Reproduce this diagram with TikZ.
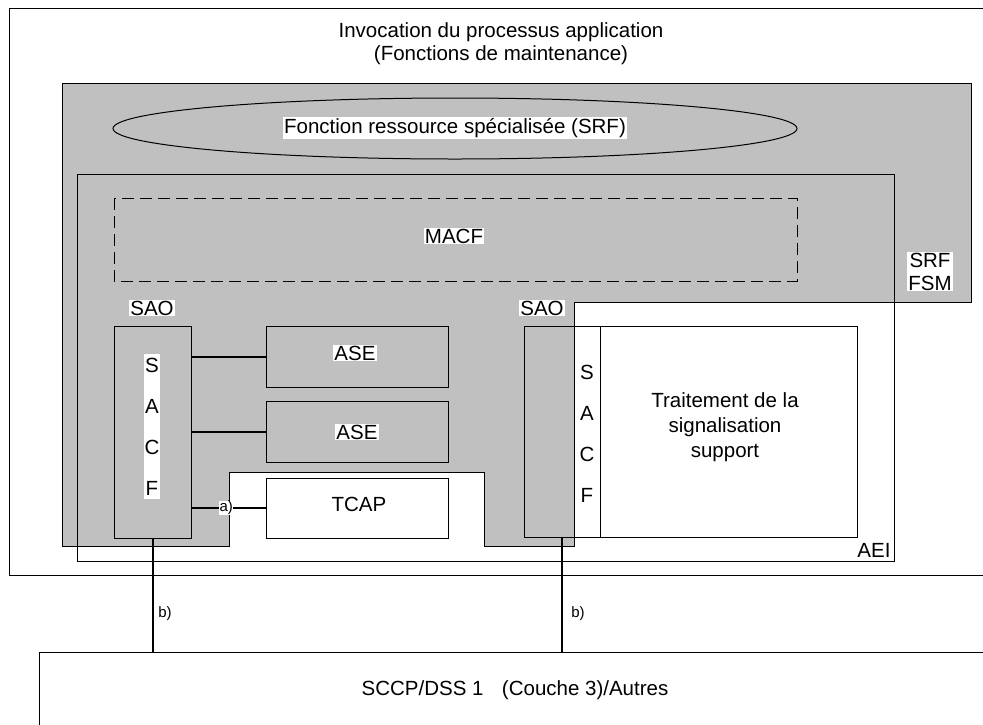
\documentclass[tikz,border=0pt]{standalone}
\usepackage{fontspec}
\setmainfont{Liberation Sans}

\definecolor{panel}{HTML}{C0C0C0}

\begin{document}
\begin{tikzpicture}[x=1pt,y=-1pt,
  frame/.style={draw=black, line width=1pt},
  blk/.style={frame, rectangle, inner sep=0pt, outer sep=0pt},
  lbl/.style={font=\fontsize{20.5}{23}\selectfont, inner sep=1pt, align=center},
  wlbl/.style={lbl, fill=white},
  tiny/.style={font=\fontsize{15}{17}\selectfont, inner sep=0.5pt},
  link/.style={draw=black, line width=2pt},
]
\useasboundingbox (0,0) rectangle (983,724);
\clip (0,0) rectangle (983,724);

% application process invocation frame (open to the right)
\draw[frame] (995,8) -- (9,8) -- (9,575) -- (995,575);
\node[lbl] (invoc) at (501,43.5) {Invocation du processus application\\(Fonctions de maintenance)};

% SRF FSM area
\draw[frame, fill=panel] (62,83) -- (971,83) -- (971,302) -- (574,302) -- (574,546)
  -- (484,546) -- (484,472) -- (229,472) -- (229,546) -- (62,546) -- cycle;
\node[wlbl] (fsm) at (930,271.5) {SRF\\FSM};

% specialized resource function
\draw[frame] (455,128.5) ellipse [x radius=342, y radius=30.5];
\node[wlbl] (srf) at (455,128) {Fonction ressource spécialisée (SRF)};

% AEI frame
\draw[frame] (77,174) rectangle (894,561);
\node[lbl] (aei) at (874,550) {AEI};

% MACF
\draw[frame, dash pattern=on 12pt off 6pt] (114,198) rectangle (797,281);
\node[wlbl] (macf) at (454,236) {MACF};

% left SAO
\node[wlbl] (saoL) at (152,308) {SAO};
\node[blk, fill=panel, minimum width=77pt, minimum height=212pt] (sacfL) at (152.5,432) {};
\node[wlbl, font=\fontsize{20.5}{41}\selectfont, inner ysep=4pt] (sacfLtxt) at (152,426.5) {S\\A\\C\\F};

\node[blk, minimum width=182pt, minimum height=61pt] (ase1) at (357,356.5) {};
\node[wlbl] (ase1txt) at (355,353) {ASE};
\node[blk, minimum width=182pt, minimum height=61pt] (ase2) at (357,431.5) {};
\node[wlbl] (ase2txt) at (357,432) {ASE};
\node[blk, fill=white, minimum width=182pt, minimum height=60pt] (tcap) at (357,508) {};
\node[lbl] (tcaptxt) at (359,504) {TCAP};

\draw[link] (sacfL.east |- ase1.west) -- (ase1.west);
\draw[link] (sacfL.east |- ase2.west) -- (ase2.west);
\draw[link] (sacfL.east |- tcap.west) -- (tcap.west)
  node[tiny, fill=white, pos=0.47] (lblA) {a)};

% right SAO
\node[wlbl] (saoR) at (542,308) {SAO};
\node[blk, minimum width=76pt, minimum height=211pt] (sacfR) at (562,431.5) {};
\node[lbl, font=\fontsize{20.5}{41}\selectfont] (sacfRtxt) at (587,434) {S\\A\\C\\F};
\node[blk, minimum width=257pt, minimum height=211pt] (trait) at (728.5,431.5) {};
\node[lbl, font=\fontsize{20.5}{25}\selectfont] (traittxt) at (725,427)
  {Traitement de la\\signalisation\\support};

% lower layer
\node[blk, minimum width=952pt, minimum height=76pt] (sccp) at (515,690) {};
\node[lbl] (sccptxt) at (515,690) {SCCP/DSS 1\hspace{0.9em}(Couche 3)/Autres};

\draw[link] (sacfL.south) -- (sacfL.south |- sccp.north);
\draw[link] (sacfR.south) -- (sacfR.south |- sccp.north);
\node[tiny] (lblB1) at (165,614) {b)};
\node[tiny] (lblB2) at (578,614) {b)};
\end{tikzpicture}
\end{document}
